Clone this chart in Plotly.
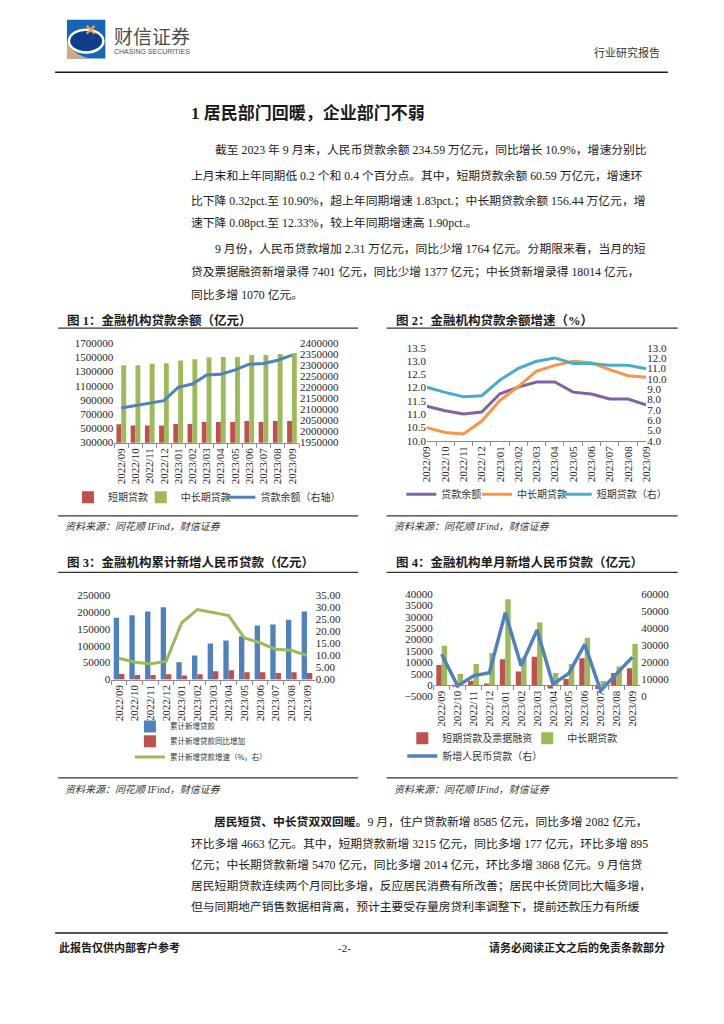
import plotly.graph_objects as go

W, H = 724, 1024
def fx(x): return x / W
def fy(y): return 1 - y / H

months = ["2022/09", "2022/10", "2022/11", "2022/12", "2023/01", "2023/02", "2023/03",
          "2023/04", "2023/05", "2023/06", "2023/07", "2023/08", "2023/09"]

# Chart 1: 金融机构贷款余额（亿元）
c1_short = [558000, 540000, 540000, 540000, 562000, 562000, 590000, 590000, 590000, 604000, 590000, 604000, 606000]
c1_midlong = [1391000, 1391000, 1410000, 1419000, 1456000, 1474000, 1497000, 1507000, 1507000, 1534000, 1534000, 1548000, 1562000]
c1_total = [2107000, 2119000, 2129000, 2140000, 2200000, 2215000, 2256000, 2259000, 2279000, 2305000, 2308000, 2323000, 2345900]

# Chart 2: 金融机构贷款余额增速（%）
c2_total = [11.30, 11.13, 11.01, 11.08, 11.77, 12.02, 12.21, 12.21, 11.83, 11.76, 11.57, 11.57, 11.35]
c2_midlong = [10.49, 10.31, 10.25, 10.74, 11.52, 12.04, 12.62, 12.84, 12.99, 12.94, 12.68, 12.45, 12.39]
c2_short = [9.18, 8.68, 8.26, 8.36, 9.88, 11.00, 11.70, 12.02, 11.48, 11.48, 11.32, 11.32, 10.97]

# Chart 3: 金融机构累计新增人民币贷款（亿元）
c3_cum = [182200, 190000, 200600, 213200, 51400, 70700, 106600, 115300, 127900, 159900, 162800, 176400, 200600]
c3_yoy = [16500, 13600, 13600, 15500, 11600, 15500, 24200, 27100, 21300, 21300, 19400, 21300, 19400]
c3_growth = [8.82, 7.19, 6.51, 7.46, 23.47, 28.9, 27.7, 26.45, 17.2, 15.2, 12.5, 12.1, 9.9]

# Chart 4: 金融机构单月新增人民币贷款（亿元）
c4_short = [8900, -600, 2000, 700, 11350, 6030, 12500, -1440, 2730, 11780, -1720, 5300, 7401]
c4_midlong = [17240, 4890, 9340, 14080, 37640, 12070, 27440, 5320, 9340, 20830, 1870, 8190, 18014]
c4_new = [24700, 6152, 12100, 14000, 49000, 18100, 38900, 7188, 13600, 30500, 3459, 13600, 23100]

RED, GREEN, BLUE = "#C0504D", "#9BBB59", "#4F81BD"
PURPLE, ORANGE, TEAL = "#8064A2", "#F79646", "#4BACC6"

SERIF = "Liberation Serif, Noto Sans CJK SC"
CJK = "Noto Sans CJK SC"
tickfont = dict(family="Liberation Serif", size=11, color="#262626")
legfont = dict(family=CJK, size=10, color="#333333")

fig = go.Figure()

def add_bar(y, name, color, xa, ya, leg):
    fig.add_trace(go.Bar(x=months, y=y, name=name, marker=dict(color=color, line=dict(width=0)),
                         xaxis=xa, yaxis=ya, legend=leg, showlegend=True))

def add_line(y, name, color, xa, ya, leg, w=3):
    fig.add_trace(go.Scatter(x=months, y=y, name=name, mode="lines", line=dict(color=color, width=w),
                             xaxis=xa, yaxis=ya, legend=leg, showlegend=True))

# chart 1
add_bar(c1_short, "短期贷款", RED, "x", "y", "legend")
add_bar(c1_midlong, "中长期贷款", GREEN, "x", "y", "legend2")
add_line(c1_total, "贷款余额（右轴）", BLUE, "x", "y2", "legend3")
# chart 2
add_line(c2_total, "贷款余额", PURPLE, "x2", "y3", "legend4")
add_line(c2_midlong, "中长期贷款", ORANGE, "x2", "y3", "legend5")
add_line(c2_short, "短期贷款（右）", TEAL, "x2", "y4", "legend6")
# chart 3
add_bar(c3_cum, "累计新增贷款", BLUE, "x3", "y5", "legend7")
add_bar(c3_yoy, "累计新增贷款同比增加", RED, "x3", "y5", "legend8")
add_line(c3_growth, "累计新增贷款增速（%，右）", GREEN, "x3", "y6", "legend9")
# chart 4
add_bar(c4_short, "短期贷款及票据融资", RED, "x4", "y7", "legend10")
add_bar(c4_midlong, "中长期贷款", GREEN, "x4", "y7", "legend11")
add_line(c4_new, "新增人民币贷款（右）", BLUE, "x4", "y8", "legend12", w=3.5)

xcommon = dict(type="category", tickangle=-90, tickfont=tickfont, showline=True, linecolor="#8C8C8C",
               linewidth=1, ticks="outside", tickson="boundaries", ticklen=4, tickcolor="#8C8C8C",
               showgrid=False, zeroline=False, fixedrange=True)
ycommon = dict(showgrid=False, zeroline=False, showline=False, ticks="", tickfont=tickfont, fixedrange=True)

def rng(a, b):
    e = (b - a) * 0.002
    return [a - e, b + e]

layout = dict(
    width=W, height=H, margin=dict(l=0, r=0, t=0, b=0),
    paper_bgcolor="white", plot_bgcolor="rgba(0,0,0,0)",
    barmode="group", bargap=0.32, bargroupgap=0,
    xaxis=dict(xcommon, domain=[fx(110), fx(298)], anchor="y"),
    yaxis=dict(ycommon, domain=[fy(442), fy(341)], range=rng(300000, 1700000), tick0=300000, dtick=200000, tickformat="d", anchor="x"),
    yaxis2=dict(ycommon, overlaying="y", side="right", range=rng(1950000, 2400000), tick0=1950000, dtick=50000, tickformat="d", anchor="x"),
    xaxis2=dict(xcommon, domain=[fx(428), fx(651)], anchor="y3"),
    yaxis3=dict(ycommon, domain=[fy(440), fy(345.7)], range=rng(10, 13.5), tick0=10, dtick=0.5, tickformat=".1f", anchor="x2"),
    yaxis4=dict(ycommon, overlaying="y3", side="right", range=rng(4, 13), tick0=4, dtick=1, tickformat=".1f", anchor="x2"),
    xaxis3=dict(xcommon, domain=[fx(107), fx(314)], anchor="y5"),
    yaxis5=dict(ycommon, domain=[fy(681.7), fy(595.7)], range=rng(0, 250000), tick0=0, dtick=50000, tickformat="d", anchor="x3"),
    yaxis6=dict(ycommon, overlaying="y5", side="right", range=rng(0, 35), tick0=0, dtick=5, tickformat=".2f", anchor="x3"),
    xaxis4=dict(xcommon, domain=[fx(435), fx(645)], anchor="free", position=fy(687.4)),
    yaxis7=dict(ycommon, domain=[fy(699), fy(594.7)], range=rng(-5000, 40000), tick0=-5000, dtick=5000, tickformat="d", anchor="x4"),
    yaxis8=dict(ycommon, overlaying="y7", side="right", range=rng(0, 60000), tick0=0, dtick=10000, tickformat="d", anchor="x4"),
)

# legends: (name, text start x, center y, font size)
legs = [("legend", 103, 497, 10), ("legend2", 177, 497, 10), ("legend3", 258, 497, 10),
        ("legend4", 442, 494, 10), ("legend5", 519, 494, 10), ("legend6", 600, 494, 10),
        ("legend7", 166, 729, 7.5), ("legend8", 166, 744, 7.5), ("legend9", 166, 760, 7.5),
        ("legend10", 443, 741, 10), ("legend11", 570, 741, 10), ("legend12", 443, 759, 10)]
for name, tx, ty, fs in legs:
    layout[name] = dict(x=fx(tx - 40), y=fy(ty), xanchor="left", yanchor="middle", orientation="h",
                        font=dict(legfont, size=fs), bgcolor="rgba(0,0,0,0)", borderwidth=0,
                        itemwidth=30)

fig.update_layout(**layout)

ann = []
def text(x, y, s, size=11.8, family=SERIF, color="#1a1a1a", xanchor="left"):
    ann.append(dict(x=fx(x), y=fy(y), xref="paper", yref="paper", text=s, showarrow=False,
                    xanchor=xanchor, yanchor="middle", font=dict(family=family, size=size, color=color)))

# header
text(108, 30, "财信证券", size=19, family=CJK, color="#4d4d4d")
text(108, 46, "CHASING SECURITIES", size=7, family="Liberation Sans", color="#4d4d4d")
text(667, 47, "行业研究报告", size=11, family=SERIF, color="#333333", xanchor="right")
text(186, 108, "<b>1 居民部门回暖，企业部门不弱</b>", size=17)

para = [
    (210, 146, "截至 2023 年 9 月末，人民币贷款余额 234.59 万亿元，同比增长 10.9%，增速分别比"),
    (186, 172, "上月末和上年同期低 0.2 个和 0.4 个百分点。其中，短期贷款余额 60.59 万亿元，增速环"),
    (186, 197, "比下降 0.32pct.至 10.90%，超上年同期增速 1.83pct.；中长期贷款余额 156.44 万亿元，增"),
    (186, 220, "速下降 0.08pct.至 12.33%，较上年同期增速高 1.90pct.。"),
    (210, 246, "9 月份，人民币贷款增加 2.31 万亿元，同比少增 1764 亿元。分期限来看，当月的短"),
    (186, 269, "贷及票据融资新增录得 7401 亿元，同比少增 1377 亿元；中长贷新增录得 18014 亿元，"),
    (186, 292, "同比多增 1070 亿元。"),
    (209, 826, "<b>居民短贷、中长贷双双回暖。</b>9 月，住户贷款新增 8585 亿元，同比多增 2082 亿元，"),
    (186, 848, "环比多增 4663 亿元。其中，短期贷款新增 3215 亿元，同比多增 177 亿元，环比多增 895"),
    (186, 869, "亿元；中长期贷款新增 5470 亿元，同比多增 2014 亿元，环比多增 3868 亿元。9 月信贷"),
    (186, 890, "居民短期贷款连续两个月同比多增，反应居民消费有所改善；居民中长贷同比大幅多增，"),
    (186, 912, "但与同期地产销售数据相背离，预计主要受存量房贷利率调整下，提前还款压力有所缓"),
]
for x, y, s in para:
    text(x, y, s, size=11.8)

# chart titles & sources
text(60, 318, "<b>图 1：金融机构贷款余额（亿元）</b>", size=12.5)
text(395, 318, "<b>图 2：金融机构贷款余额增速（%）</b>", size=12.5)
text(60, 563, "<b>图 3：金融机构累计新增人民币贷款（亿元）</b>", size=12.5)
text(395, 563, "<b>图 4：金融机构单月新增人民币贷款（亿元）</b>", size=12.5)
for x, y in [(58, 527), (393, 527), (58, 793), (393, 793)]:
    text(x, y, "<i>资料来源：同花顺 IFind，财信证券</i>", size=10, color="#333333")

# footer
text(52, 953, "<b>此报告仅供内部客户参考</b>", size=11)
text(344, 953, "-2-", size=11, xanchor="center")
text(672, 953, "<b>请务必阅读正文之后的免责条款部分</b>", size=11, xanchor="right")

shapes = []
def hline(x0, x1, y, w=1, color="#000000"):
    shapes.append(dict(type="line", xref="paper", yref="paper", x0=fx(x0), x1=fx(x1), y0=fy(y), y1=fy(y),
                       line=dict(color=color, width=w)))

hline(50, 673, 67, 1.5, "#1a1a1a")
hline(53, 358, 326, 1.2, "#333333")
hline(387, 683, 326, 1.2, "#333333")
hline(53, 358, 516, 1.2, "#333333")
hline(387, 683, 516, 1.2, "#333333")
hline(53, 358, 573, 1.2, "#333333")
hline(387, 683, 573, 1.2, "#333333")
hline(53, 358, 781, 1.2, "#333333")
hline(387, 683, 781, 1.2, "#333333")
hline(50, 673, 938, 1.5, "#1a1a1a")

# logo
shapes.append(dict(type="rect", xref="paper", yref="paper", x0=fx(62), x1=fx(101), y0=fy(14), y1=fy(53),
                   fillcolor="#1766B5", line=dict(width=0)))
shapes.append(dict(type="path", xref="paper", yref="paper",
                   path=f"M {fx(62)},{fy(36)} Q {fx(68)},{fy(50)} {fx(86)},{fy(53)} L {fx(62)},{fy(53)} Z",
                   fillcolor="#D8A77E", line=dict(width=0)))
shapes.append(dict(type="circle", xref="paper", yref="paper", x0=fx(64), x1=fx(99), y0=fy(24), y1=fy(47),
                   fillcolor="#0F3F8C", line=dict(color="white", width=2.5)))
shapes.append(dict(type="line", xref="paper", yref="paper", x0=fx(82), x1=fx(90), y0=fy(20), y1=fy(28),
                   line=dict(color="#F0A050", width=2)))
shapes.append(dict(type="line", xref="paper", yref="paper", x0=fx(82), x1=fx(90), y0=fy(28), y1=fy(20),
                   line=dict(color="#F0A050", width=2)))

fig.update_layout(annotations=ann, shapes=shapes)
fig.write_html("out.html", config={"displayModeBar": False},
               post_script="document.body.style.margin='0';document.body.style.overflow='hidden';")
